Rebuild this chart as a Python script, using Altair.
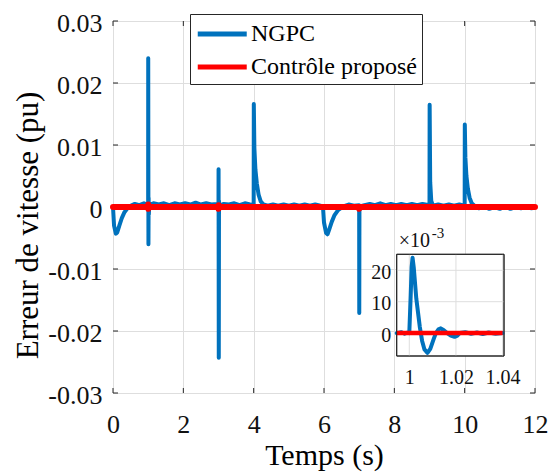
import altair as alt
import pandas as pd

# ---------------- data ----------------
ngpc_t = [0.00, 0.03, 0.08, 0.12, 0.18, 0.25, 0.32, 0.40, 0.50, 0.62, 0.75, 0.88,
          0.998, 1.000, 1.0015, 1.0078, 1.013, 1.0195, 1.03,
          1.15, 1.30, 1.45, 1.60, 1.75, 1.90, 2.05, 2.20, 2.35, 2.50, 2.65, 2.80, 2.95,
          2.998, 3.000, 3.002, 3.008, 3.014, 3.02,
          3.15, 3.30, 3.45, 3.60, 3.75, 3.90,
          3.998, 4.000, 4.004, 4.02, 4.05, 4.09, 4.14, 4.20, 4.28,
          4.40, 4.55, 4.70, 4.85, 5.00, 5.15, 5.30, 5.45, 5.60, 5.75, 5.90, 5.97,
          6.00, 6.06, 6.10, 6.15, 6.22, 6.30, 6.40,
          6.55, 6.70, 6.85, 6.998, 7.000, 7.003, 7.008, 7.015,
          7.15, 7.30, 7.45, 7.60, 7.75, 7.90, 8.05, 8.20, 8.35, 8.50, 8.65, 8.80,
          8.998, 9.000, 9.004, 9.02, 9.05, 9.10,
          9.25, 9.40, 9.55, 9.70, 9.85, 9.998,
          10.000, 10.004, 10.02, 10.05, 10.09, 10.14, 10.20, 10.28,
          10.40, 10.55, 10.70, 10.85, 11.00, 11.15, 11.30, 11.45, 11.60, 11.75, 11.90,
          12.00]
ngpc_v = [0.0000, -0.0030, -0.0043, -0.0041, -0.0030, -0.0018, -0.0009, -0.0003, 0.0002,
          0.0005, 0.0003, 0.0006,
          0.0003, 0.0000, 0.0240, -0.0060, 0.0015, -0.0012, 0.0003,
          0.0006, 0.0004, 0.0006, 0.0003, 0.0006, 0.0004, 0.0006, 0.0004, 0.0007, 0.0004,
          0.0006, 0.0004, 0.0005,
          0.0003, 0.0000, 0.0061, -0.0243, 0.0010, 0.0002,
          0.0005, 0.0004, 0.0006, 0.0003, 0.0006, 0.0004,
          0.0003, 0.0000, 0.0166, 0.0095, 0.0060, 0.0038, 0.0020, 0.0009, 0.0004,
          0.0002, 0.0004, 0.0002, 0.0004, 0.0002, 0.0004, 0.0002, 0.0004, 0.0002, 0.0004,
          0.0002, 0.0001,
          -0.0025, -0.0042, -0.0044, -0.0036, -0.0024, -0.0013, -0.0005,
          0.0001, 0.0004, 0.0002, 0.0003, 0.0000, -0.0171, 0.0002, 0.0001,
          0.0003, 0.0005, 0.0003, 0.0006, 0.0003, 0.0005, 0.0003, 0.0005, 0.0003, 0.0005,
          0.0003, 0.0005,
          0.0003, 0.0000, 0.0165, 0.0040, 0.0010, 0.0002,
          0.0004, 0.0002, 0.0004, 0.0002, 0.0004, 0.0002,
          0.0000, 0.0133, 0.0080, 0.0050, 0.0030, 0.0015, 0.0006, 0.0002,
          -0.0002, 0.0001, -0.0003, 0.0000, -0.0003, 0.0001, -0.0003, 0.0000, -0.0002,
          0.0001, -0.0002,
          0.0000]

prop_t = [0.0, 0.998, 1.002, 1.006, 1.012, 2.998, 3.003, 3.008, 3.014, 6.998, 7.003,
          7.010, 12.0]
prop_v = [0.0, 0.0, 0.0004, -0.0003, 0.0, 0.0, -0.0003, 0.0003, 0.0, 0.0, -0.0003,
          0.0, 0.0]

# inset (values in x10^-3)
inset_ngpc_t = [0.9946, 0.9965, 0.998, 0.9995, 1.0000, 1.0006, 1.0010, 1.0014, 1.0019,
                1.0030, 1.0045, 1.0055, 1.0065, 1.0078, 1.0090, 1.0104, 1.0114, 1.0125,
                1.0135, 1.0148, 1.0162, 1.0178, 1.0194, 1.0206, 1.0216, 1.0240, 1.0265,
                1.0290, 1.0315, 1.0340, 1.0370, 1.0400]
inset_ngpc_v = [0.0, 0.3, -0.2, 0.2, 0.0, 12.0, 21.0, 24.0, 21.0,
                11.0, 2.0, -2.5, -5.2, -6.3, -5.0, -2.0, 0.0, 1.2,
                1.5, 0.9, 0.0, -0.8, -1.2, -0.8, 0.0, 0.3, -0.2,
                0.2, -0.3, 0.2, -0.2, 0.0]
inset_prop_t = [0.9946, 1.0400]
inset_prop_v = [0.0, 0.0]

series_names = ["NGPC", "Contrôle proposé"]
series_colors = ["#0072BD", "#FF0000"]

x_dom = [0, 12]
y_dom = [-0.03, 0.03]
x_ticks = [0, 2, 4, 6, 8, 10, 12]
y_ticks = [-0.03, -0.02, -0.01, 0, 0.01, 0.02, 0.03]

inset_x_dom = [0.9946, 1.0406]
inset_y_dom = [-7.3, 25.1]
inset_x_ticks = [1.0, 1.02, 1.04]
inset_y_ticks = [0, 10, 20]

# ---------------- style ----------------
W, H = 422, 372
FONT = "Liberation Serif"
FRAME = "#262626"
GRID = "#dedede"
LBL = "#111111"

INSET_X_RANGE = [283.7, 391]
INSET_Y_RANGE = [335, 233.3]

xs = alt.Scale(domain=x_dom, nice=False, zero=False)
ys = alt.Scale(domain=y_dom, nice=False, zero=False)

x_axis = alt.Axis(values=x_ticks, title="Temps (s)", grid=True, gridColor=GRID, gridWidth=1,
                  domain=False, ticks=False, tickSize=0, labelFontSize=26, labelPadding=18,
                  labelFlush=False, labelOverlap=False, labelColor=LBL, labelFont=FONT,
                  titleFont=FONT, titleFontSize=30, titleFontWeight="normal", titleColor="black",
                  titleX=211, titleY=71, titleBaseline="alphabetic", titleAlign="center")
y_axis = alt.Axis(values=y_ticks, title="Erreur de vitesse (pu)", grid=True, gridColor=GRID,
                  gridWidth=1, domain=False, ticks=False, tickSize=0, labelFontSize=26,
                  labelPadding=11, labelOffset=2, labelFlush=False, labelOverlap=False,
                  labelColor=LBL, labelFont=FONT,
                  labelExpr="datum.value == 0 ? '0' : replace(format(datum.value, '.2f'), '\u2212', '-')",
                  titleFont=FONT, titleFontSize=31, titleFontWeight="normal", titleColor="black",
                  titleAngle=270, titleX=-76, titleY=204, titleBaseline="alphabetic",
                  titleAlign="center")

legend = alt.Legend(title=None, orient="none", legendX=77, legendY=-7,
                    symbolType="M-1,0H3", symbolSize=600, symbolStrokeWidth=5,
                    labelFontSize=24, labelFont=FONT, labelColor="black", labelOffset=26,
                    labelLimit=400, padding=5, rowPadding=6, strokeColor=FRAME,
                    fillColor="white", cornerRadius=0)
color = alt.Color("s:N", scale=alt.Scale(domain=series_names, range=series_colors),
                  legend=legend)

ngpc_df = pd.DataFrame({"t": ngpc_t, "v": ngpc_v, "s": series_names[0]})
prop_df = pd.DataFrame({"t": prop_t, "v": prop_v, "s": series_names[1]})

blue = alt.Chart(ngpc_df).mark_line(strokeWidth=4, strokeJoin="round", strokeCap="round").encode(
    x=alt.X("t:Q", scale=xs, axis=x_axis),
    y=alt.Y("v:Q", scale=ys, axis=y_axis),
    color=color, order="t:Q")
red = alt.Chart(prop_df).mark_line(strokeWidth=6, strokeJoin="round", strokeCap="round").encode(
    x=alt.X("t:Q", scale=xs, axis=x_axis),
    y=alt.Y("v:Q", scale=ys, axis=y_axis),
    color=color, order="t:Q")

# inward tick marks (MATLAB style)
TICK_PX = 5
dxt = TICK_PX / W * (x_dom[1] - x_dom[0])
dyt = TICK_PX / H * (y_dom[1] - y_dom[0])
xt_df = pd.DataFrame({"t": x_ticks})
yt_df = pd.DataFrame({"v": y_ticks})
tick_layers = []
for y0, y1 in [(y_dom[0], y_dom[0] + dyt), (y_dom[1], y_dom[1] - dyt)]:
    d = xt_df.assign(a=y0, b=y1)
    tick_layers.append(alt.Chart(d).mark_rule(color=FRAME, strokeWidth=1).encode(
        x=alt.X("t:Q", scale=xs, axis=x_axis),
        y=alt.Y("a:Q", scale=ys, axis=y_axis), y2="b:Q"))
for x0, x1 in [(x_dom[0], x_dom[0] + dxt), (x_dom[1], x_dom[1] - dxt)]:
    d = yt_df.assign(a=x0, b=x1)
    tick_layers.append(alt.Chart(d).mark_rule(color=FRAME, strokeWidth=1).encode(
        y=alt.Y("v:Q", scale=ys, axis=y_axis),
        x=alt.X("a:Q", scale=xs, axis=x_axis), x2="b:Q"))

main = alt.layer(*tick_layers, blue, red)

# ---------------- inset ----------------
xsi = alt.Scale(domain=inset_x_dom, range=INSET_X_RANGE, nice=False, zero=False)
ysi = alt.Scale(domain=inset_y_dom, range=INSET_Y_RANGE, nice=False, zero=False)
x_axis_i = alt.Axis(orient="bottom", offset=-37, values=inset_x_ticks, title=None, grid=False,
                    domain=False, ticks=False, tickSize=0, labelFontSize=20, labelPadding=11,
                    labelFlush=False, labelOverlap=False, labelColor=LBL, labelFont=FONT,
                    labelExpr="datum.value == 1 ? '1' : format(datum.value, '.2f')")
y_axis_i = alt.Axis(orient="left", offset=-283.7, values=inset_y_ticks, title=None, grid=False,
                    domain=False, ticks=False, tickSize=0, labelFontSize=20, labelPadding=6,
                    labelOffset=2, labelFlush=False, labelOverlap=False, labelColor=LBL,
                    labelFont=FONT)

box_df = pd.DataFrame({"x0": [inset_x_dom[0]], "x1": [inset_x_dom[1]],
                       "y0": [inset_y_dom[0]], "y1": [inset_y_dom[1]]})
bg = alt.Chart(box_df).mark_rect(fill="white", stroke=FRAME, strokeWidth=1).encode(
    x=alt.X("x0:Q", scale=xsi, axis=x_axis_i), x2="x1:Q",
    y=alt.Y("y0:Q", scale=ysi, axis=y_axis_i), y2="y1:Q")

gv_df = pd.DataFrame({"t": inset_x_ticks, "a": inset_y_dom[0], "b": inset_y_dom[1]})
gh_df = pd.DataFrame({"v": inset_y_ticks, "a": inset_x_dom[0], "b": inset_x_dom[1]})
grid_v = alt.Chart(gv_df).mark_rule(color=GRID, strokeWidth=1).encode(
    x=alt.X("t:Q", scale=xsi, axis=x_axis_i),
    y=alt.Y("a:Q", scale=ysi, axis=y_axis_i), y2="b:Q")
grid_h = alt.Chart(gh_df).mark_rule(color=GRID, strokeWidth=1).encode(
    y=alt.Y("v:Q", scale=ysi, axis=y_axis_i),
    x=alt.X("a:Q", scale=xsi, axis=x_axis_i), x2="b:Q")
frame = alt.Chart(box_df).mark_rect(fill=None, stroke=FRAME, strokeWidth=1).encode(
    x=alt.X("x0:Q", scale=xsi, axis=x_axis_i), x2="x1:Q",
    y=alt.Y("y0:Q", scale=ysi, axis=y_axis_i), y2="y1:Q")

in_blue_df = pd.DataFrame({"t": inset_ngpc_t, "v": inset_ngpc_v})
in_red_df = pd.DataFrame({"t": inset_prop_t, "v": inset_prop_v})
in_blue = alt.Chart(in_blue_df).mark_line(color=series_colors[0], strokeWidth=4,
                                          strokeJoin="round", strokeCap="round").encode(
    x=alt.X("t:Q", scale=xsi, axis=x_axis_i),
    y=alt.Y("v:Q", scale=ysi, axis=y_axis_i), order="t:Q")
in_red = alt.Chart(in_red_df).mark_line(color=series_colors[1], strokeWidth=4.5,
                                        strokeCap="butt").encode(
    x=alt.X("t:Q", scale=xsi, axis=x_axis_i),
    y=alt.Y("v:Q", scale=ysi, axis=y_axis_i), order="t:Q")

exp_df = pd.DataFrame({"x": [inset_x_dom[0]], "y": [inset_y_dom[1]]})
exp_main = alt.Chart(exp_df).mark_text(text="×10", align="left", baseline="alphabetic",
                                       dx=2, dy=-7.6, fontSize=20, font=FONT,
                                       color=LBL).encode(
    x=alt.X("x:Q", scale=xsi, axis=x_axis_i),
    y=alt.Y("y:Q", scale=ysi, axis=y_axis_i))
exp_sup = alt.Chart(exp_df).mark_text(text="-3", align="left", baseline="alphabetic",
                                      dx=35, dy=-16, fontSize=15, font=FONT,
                                      color=LBL).encode(
    x=alt.X("x:Q", scale=xsi, axis=x_axis_i),
    y=alt.Y("y:Q", scale=ysi, axis=y_axis_i))

inset = alt.layer(bg, grid_v, grid_h, in_blue, in_red, frame, exp_main, exp_sup)

chart = alt.layer(main, inset).resolve_scale(x="independent", y="independent").properties(
    width=W, height=H,
    padding={"left": 113, "top": 21, "right": 22, "bottom": 79},
    autosize=alt.AutoSizeParams(type="none"),
    background="white",
).configure_view(stroke=FRAME, strokeWidth=1).configure(font=FONT)

chart.save("out.html", embed_options={"renderer": "svg", "actions": False})
